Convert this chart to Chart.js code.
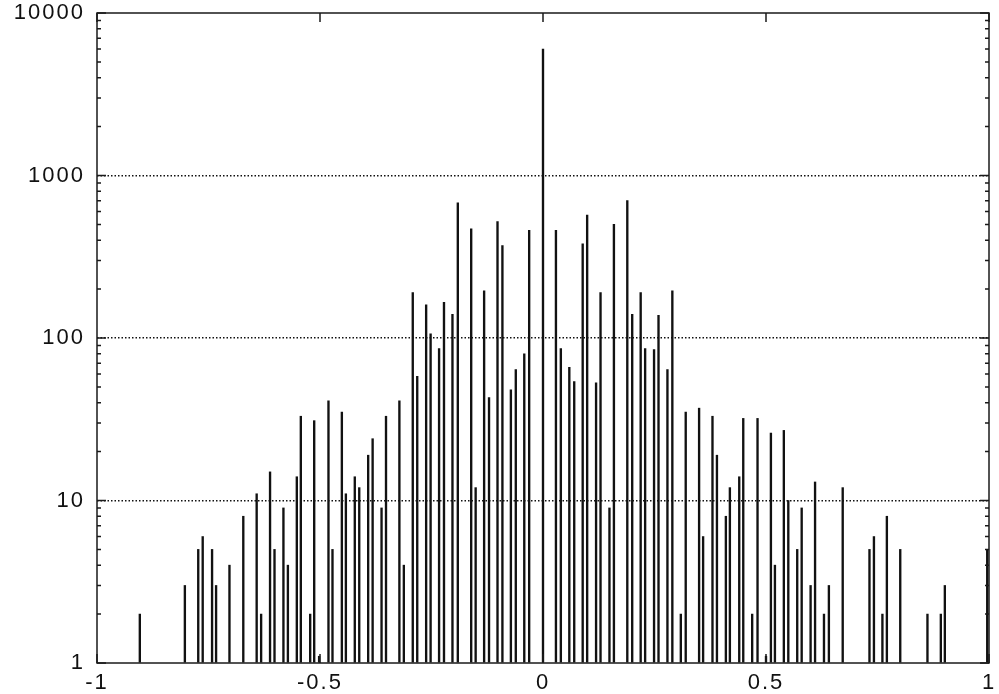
<!DOCTYPE html>
<html>
<head>
<meta charset="utf-8">
<title>Histogram</title>
<script src="https://cdn.jsdelivr.net/npm/chart.js"></script>
<style>
  html, body { margin: 0; padding: 0; background: #fff; }
  #wrap { width: 999px; height: 694px; position: relative; }
</style>
</head>
<body>
<div id="wrap"><canvas id="histChart"></canvas></div>
<script>
// impulse positions and their counts
const positions = [
  -0.904, -0.803, -0.773, -0.763, -0.742, -0.733, -0.703, -0.672,
  -0.642, -0.632, -0.612, -0.602, -0.582, -0.572, -0.552, -0.543,
  -0.522, -0.513, -0.502, -0.481, -0.472, -0.451, -0.442, -0.422,
  -0.412, -0.392, -0.382, -0.362, -0.352, -0.322, -0.312, -0.292,
  -0.282, -0.262, -0.252, -0.233, -0.222, -0.203, -0.191, -0.161,
  -0.151, -0.132, -0.121, -0.102, -0.091, -0.072, -0.061, -0.042,
  -0.031, 0,
  0.029, 0.040, 0.059, 0.070, 0.089, 0.099, 0.119, 0.129,
  0.149, 0.159, 0.189, 0.200, 0.219, 0.229, 0.249, 0.259,
  0.279, 0.290, 0.309, 0.320, 0.350, 0.359, 0.380, 0.390,
  0.410, 0.419, 0.440, 0.449, 0.469, 0.481, 0.500, 0.511,
  0.520, 0.540, 0.550, 0.570, 0.580, 0.600, 0.610, 0.630,
  0.641, 0.672, 0.732, 0.742, 0.761, 0.771, 0.801, 0.862,
  0.892, 0.901, 0.996
];
const counts = [
  2, 3, 5, 6, 5, 3, 4, 8,
  11, 2, 15, 5, 9, 4, 14, 33,
  2, 31, 1.1, 41, 5, 35, 11, 14,
  12, 19, 24, 9, 33, 41, 4, 190,
  58, 160, 106, 86, 166, 140, 680, 470,
  12, 195, 43, 520, 370, 48, 64, 80,
  460, 6000,
  460, 86, 66, 54, 380, 570, 53, 190,
  9, 500, 700, 140, 190, 86, 85, 138,
  64, 195, 2, 35, 37, 6, 33, 19,
  8, 12, 14, 32, 2, 32, 1.1, 26,
  4, 27, 10, 5, 9, 3, 13, 2,
  3, 12, 5, 6, 2, 8, 5, 2,
  2, 3, 5
];
const xTicks = [-1, -0.5, 0, 0.5, 1];
const yTicks = [1, 10, 100, 1000, 10000];

const fontFamily = '"Liberation Sans", Arial, Helvetica, sans-serif';

// the reference labels are drawn a bit wide
const wideText = {
  id: 'wideText',
  beforeDraw(chart) {
    chart.ctx.letterSpacing = '2px';
  }
};

// box round the plot plus inward ticks, gnuplot style
const frameTicks = {
  id: 'frameTicks',
  afterDatasetsDraw(chart) {
    const ctx = chart.ctx;
    const area = chart.chartArea;
    const xs = chart.scales.x;
    const ys = chart.scales.y;
    ctx.save();
    ctx.strokeStyle = '#1a1a1a';
    ctx.lineWidth = 1.5;
    ctx.beginPath();
    for (let d = 1; d < 10000; d *= 10) {
      for (let m = 2; m <= 9; m++) {
        const py = ys.getPixelForValue(d * m);
        ctx.moveTo(area.left, py); ctx.lineTo(area.left + 4, py);
        ctx.moveTo(area.right, py); ctx.lineTo(area.right - 4, py);
      }
    }
    yTicks.forEach(function (v) {
      const py = ys.getPixelForValue(v);
      ctx.moveTo(area.left, py); ctx.lineTo(area.left + 9, py);
      ctx.moveTo(area.right, py); ctx.lineTo(area.right - 9, py);
    });
    xTicks.forEach(function (v) {
      const px = xs.getPixelForValue(v);
      ctx.moveTo(px, area.bottom); ctx.lineTo(px, area.bottom - 9);
      ctx.moveTo(px, area.top); ctx.lineTo(px, area.top + 9);
    });
    ctx.stroke();
    ctx.strokeRect(area.left, area.top, area.right - area.left, area.bottom - area.top);
    ctx.restore();
  }
};

const ctx = document.getElementById('histChart').getContext('2d');

new Chart(ctx, {
  type: 'bar',
  data: {
    datasets: [{
      data: positions.map(function (p, i) { return {x: p, y: counts[i]}; }),
      backgroundColor: '#111',
      borderWidth: 0,
      barThickness: 1.7,
      base: 1
    }]
  },
  options: {
    responsive: true,
    maintainAspectRatio: false,
    animation: false,
    devicePixelRatio: 1,
    layout: { padding: { top: 13, right: 10, left: 0, bottom: 0 } },
    plugins: { legend: { display: false }, tooltip: { enabled: false } },
    scales: {
      x: {
        type: 'linear',
        min: -1,
        max: 1,
        offset: false,
        afterBuildTicks: function (s) { s.ticks = xTicks.map(function (v) { return {value: v}; }); },
        afterFit: function (s) { s.height = 31; s.paddingLeft = 0; s.paddingRight = 0; },
        ticks: {
          callback: function (v) { return String(v); },
          font: { family: fontFamily, size: 22 },
          color: '#111',
          padding: 7,
          maxRotation: 0,
          autoSkip: false
        },
        grid: { display: false, drawTicks: false },
        border: { display: false }
      },
      y: {
        type: 'logarithmic',
        min: 1,
        max: 10000,
        afterBuildTicks: function (s) { s.ticks = yTicks.map(function (v) { return {value: v}; }); },
        afterFit: function (s) { s.width = 97; s.paddingTop = 0; s.paddingBottom = 0; },
        ticks: {
          callback: function (v) { return String(v); },
          font: { family: fontFamily, size: 22 },
          color: '#111',
          padding: 12
        },
        grid: {
          color: function (c) {
            const v = c.tick ? c.tick.value : null;
            return (v === 10 || v === 100 || v === 1000) ? '#111' : 'rgba(0,0,0,0)';
          },
          lineWidth: 1.5,
          drawTicks: false
        },
        border: { display: false, dash: [1.5, 2] }
      }
    }
  },
  plugins: [wideText, frameTicks]
});
</script>
</body>
</html>
